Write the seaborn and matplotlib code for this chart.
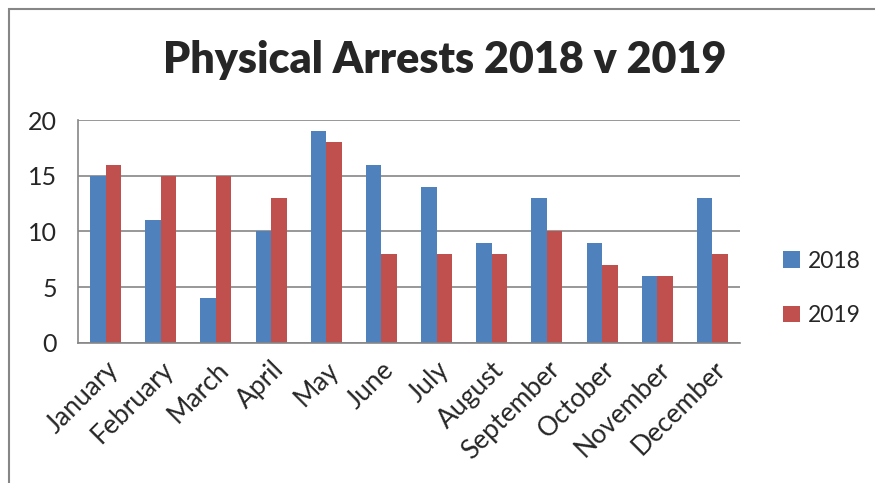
import numpy as np
import pandas as pd
import matplotlib
matplotlib.use("Agg")
import matplotlib.pyplot as plt
import seaborn as sns
from matplotlib.patches import Rectangle

months = ["January", "February", "March", "April", "May", "June",
          "July", "August", "September", "October", "November", "December"]
arrests_2018 = [15, 11, 4, 10, 19, 16, 14, 9, 13, 9, 6, 13]
arrests_2019 = [16, 15, 15, 13, 18, 8, 8, 8, 10, 7, 6, 8]
years = ["2018", "2019"]
colors = ["#4f81bd", "#c0504d"]

df = pd.DataFrame({
    "month": months * 2,
    "year": [years[0]] * 12 + [years[1]] * 12,
    "arrests": arrests_2018 + arrests_2019,
})

sns.set_style("white")
plt.rcParams["font.family"] = ["Lato", "DejaVu Sans"]

fig = plt.figure(figsize=(8.75, 4.83), dpi=100)
ax = fig.add_axes([78 / 875, 1 - 343 / 483, (740 - 78) / 875, (343 - 120) / 483])

sns.barplot(data=df, x="month", y="arrests", hue="year", palette=colors,
            width=0.56, gap=0, saturation=1, ax=ax, edgecolor="none")

ax.set_xlim(-0.5, 11.5)
ax.set_ylim(0, 20)
ax.set_yticks([0, 5, 10, 15, 20])
ax.yaxis.grid(True, color="#868686", linewidth=1.2)
ax.set_axisbelow(True)
for s in ["top", "right"]:
    ax.spines[s].set_visible(False)
for s in ["left", "bottom"]:
    ax.spines[s].set_color("#868686")
    ax.spines[s].set_linewidth(1.2)

# category boundary tick marks like Excel
ax.set_xticks(np.arange(-0.5, 12, 1), minor=True)
ax.tick_params(axis="x", which="minor", length=6, width=1.2, color="#868686", direction="out")
ax.tick_params(axis="x", which="major", length=0, pad=10)
ax.tick_params(axis="y", length=8, width=1.2, color="#868686", direction="out", pad=7)
ax.set_xticks(range(12))
ax.set_xticklabels(months, rotation=45, ha="right", rotation_mode="anchor", fontsize=19)
for lbl in ax.get_yticklabels():
    lbl.set_fontsize(18)
ax.set_xlabel("")
ax.set_ylabel("")

fig.suptitle("Physical Arrests 2018 v 2019", x=445 / 875, y=1 - 60 / 483,
             va="center", fontsize=31, fontweight="heavy")

ax.legend(loc="center left", bbox_to_anchor=(1.065, 0.245), frameon=False,
          fontsize=16.5, handlelength=0.75, handleheight=0.75, handletextpad=0.35,
          labelspacing=1.45, borderpad=0, borderaxespad=0)

fig.patches.append(Rectangle((9 / 875, -0.1), 1.0, 1 - 9 / 483 + 0.1,
                             transform=fig.transFigure, fill=False,
                             edgecolor="#868686", linewidth=1.5))

fig.savefig("out.png", dpi=100)
